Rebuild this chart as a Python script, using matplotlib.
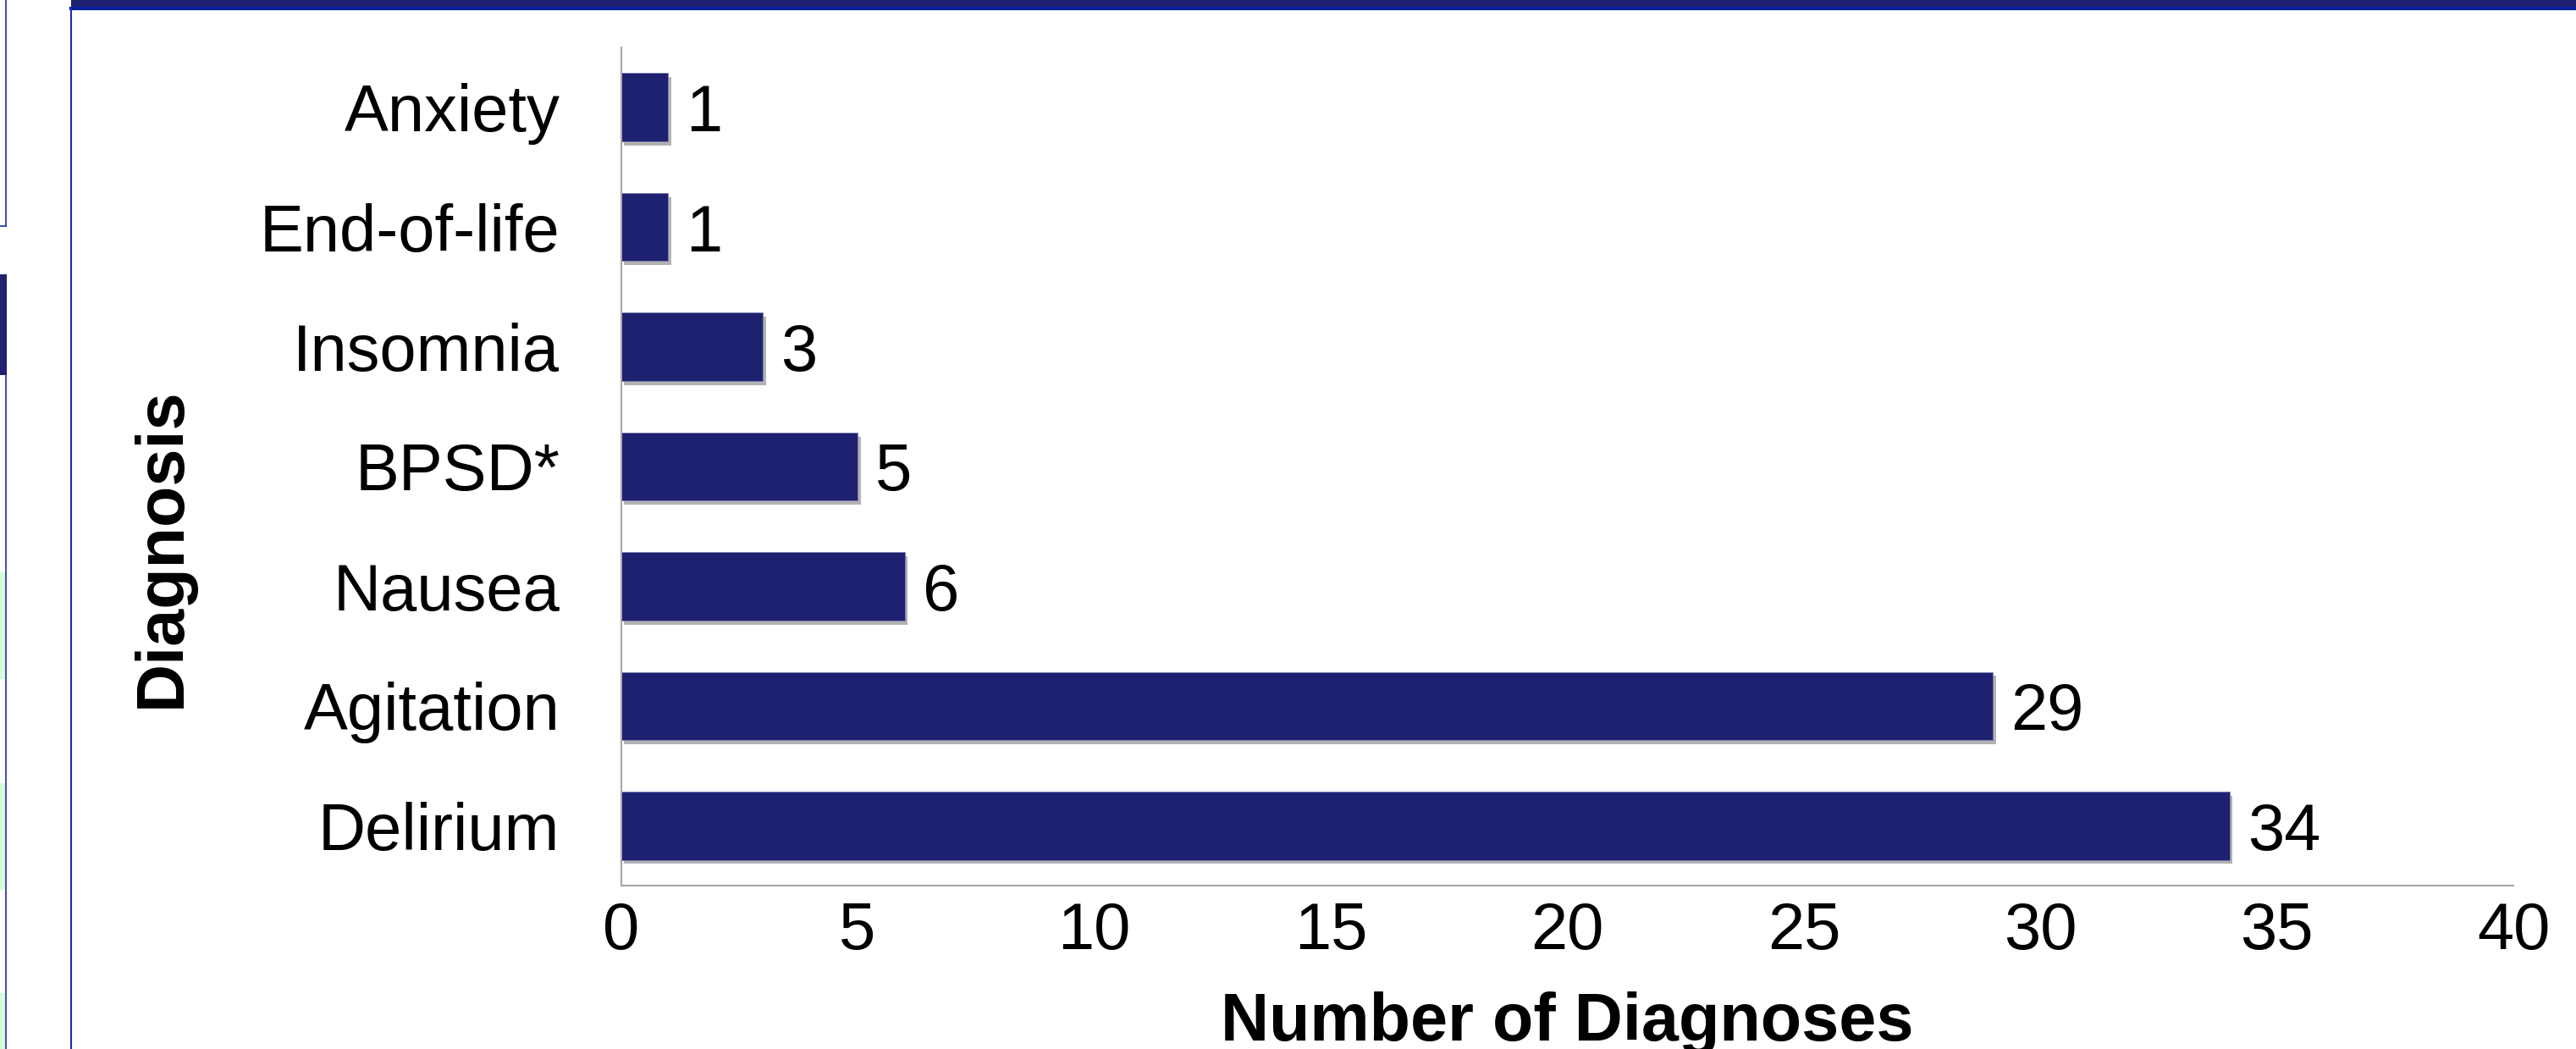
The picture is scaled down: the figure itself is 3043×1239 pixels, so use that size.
import matplotlib
matplotlib.use("Agg")
import matplotlib.pyplot as plt
import matplotlib.patheffects as pe
from matplotlib.patches import Rectangle
from matplotlib.lines import Line2D

# data (top to bottom)
diagnoses = ["Anxiety", "End-of-life", "Insomnia", "BPSD*", "Nausea", "Agitation", "Delirium"]
counts = [1, 1, 3, 5, 6, 29, 34]
x_ticks = [0, 5, 10, 15, 20, 25, 30, 35, 40]

navy = "#1e2170"
frame_blue = "#1a2ea8"
W, H = 3043, 1239

plt.rcParams["font.family"] = ["Liberation Sans", "DejaVu Sans"]

fig = plt.figure(figsize=(W / 100, H / 100), dpi=100)


def fx(px):
    return px / W


def fy(py):
    return 1 - py / H


# slide decorations around the chart
fig.add_artist(Rectangle((fx(84), fy(12)), 1 - fx(84), fy(0) - fy(12),
                         transform=fig.transFigure, color=navy, lw=0))
fig.add_artist(Line2D([fx(84), 1], [fy(10), fy(10)], transform=fig.transFigure,
                      color="#0a1e9a", lw=3))
fig.add_artist(Line2D([fx(84), fx(84)], [0, fy(10)], transform=fig.transFigure,
                      color=frame_blue, lw=1.5))
fig.add_artist(Line2D([fx(7), fx(7)], [fy(267), 1], transform=fig.transFigure,
                      color=frame_blue, lw=1.2))
fig.add_artist(Line2D([0, fx(7)], [fy(267), fy(267)], transform=fig.transFigure,
                      color=frame_blue, lw=1.2))
fig.add_artist(Rectangle((0, fy(443)), fx(8), fy(324) - fy(443),
                         transform=fig.transFigure, color=navy, lw=0))
for top, bot in [(676, 802), (925, 1051), (1173, 1239)]:
    fig.add_artist(Rectangle((0, fy(bot)), fx(6), fy(top) - fy(bot),
                             transform=fig.transFigure, color="#d6fcd6", lw=0))
fig.add_artist(Line2D([fx(7), fx(7)], [0, fy(443)], transform=fig.transFigure,
                      color=frame_blue, lw=1.2))

ax = fig.add_axes([fx(733.6), fy(1046), fx(2969.3) - fx(733.6), fy(56) - fy(1046)])

ypos = list(range(len(diagnoses)))
bars = ax.barh(ypos, counts, height=0.57, color=navy, edgecolor="#7a80b0", linewidth=0.6)
for b in bars:
    b.set_path_effects([pe.SimplePatchShadow(offset=(2.5, -3.5), shadow_rgbFace="#666666", alpha=0.5),
                        pe.Normal()])

for y, v in zip(ypos, counts):
    ax.annotate(str(v), xy=(v, y), xytext=(15, -20.5), textcoords="offset points",
                ha="left", va="baseline", fontsize=56, color="black")

ax.set_xlim(0, 40)
ax.set_ylim(-0.5, len(diagnoses) - 0.5)
ax.invert_yaxis()
ax.set_xticks(x_ticks)
ax.set_yticks(ypos)
ax.set_yticklabels(diagnoses)
ax.tick_params(axis="both", length=0, labelsize=56)
ax.tick_params(axis="x", pad=13)
ax.tick_params(axis="y", pad=52)

for side in ["top", "right"]:
    ax.spines[side].set_visible(False)
for side in ["left", "bottom"]:
    ax.spines[side].set_color("#a6a6a6")
    ax.spines[side].set_linewidth(1.5)

fig.text(fx(1851), fy(1229), "Number of Diagnoses", ha="center", va="baseline",
         fontsize=57, fontweight="bold")
fig.text(fx(213), fy(647), "Diagnosis", rotation=90, rotation_mode="anchor",
         ha="center", va="baseline", fontsize=57, fontweight="bold")

fig.savefig("out.png", dpi=100)
